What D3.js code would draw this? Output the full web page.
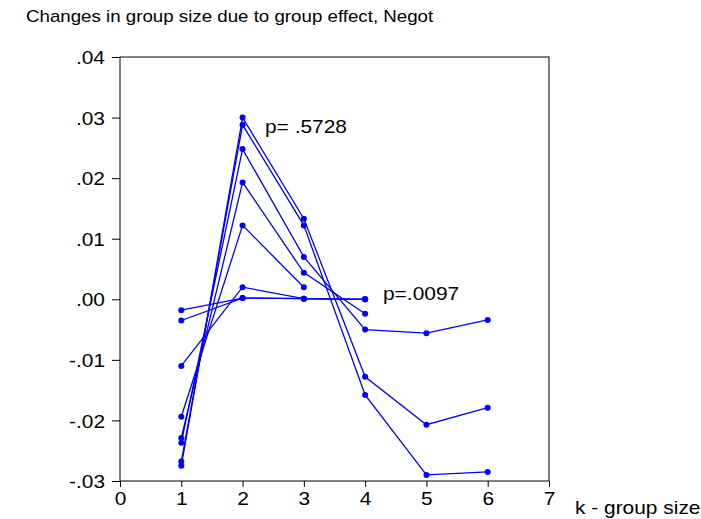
<!DOCTYPE html>
<html>
<head>
<meta charset="utf-8">
<script src="https://cdn.jsdelivr.net/npm/d3@7"></script>
<style>
  body { margin: 0; background: #fff; }
  text { font-family: "Liberation Sans", Arial, sans-serif; fill: #000; }
</style>
</head>
<body>
<svg id="chart"></svg>
<script>
// Data
const kValues = [1, 2, 3, 4, 5, 6];
const seriesA = [-0.0275, 0.0300, 0.0133, -0.0128, -0.0207, -0.0179];
const seriesB = [-0.0268, 0.0288, 0.0122, -0.0158, -0.0290, -0.0285];
const seriesC = [-0.0237, 0.0248, 0.0070, -0.0050, -0.0056, -0.0034];
const seriesD = [-0.0229, 0.0193, 0.0044, -0.0024];
const seriesE = [-0.0194, 0.0122, 0.0020];
const seriesF = [-0.0110, 0.0020, 0.0001, 0.0000];
const seriesG = [-0.0018, 0.0002, 0.0001, 0.0000];
const seriesH = [-0.0035, 0.0002, 0.0001, 0.0000];
const allSeries = [seriesA, seriesB, seriesC, seriesD, seriesE, seriesF, seriesG, seriesH];

const xTicks = [0, 1, 2, 3, 4, 5, 6, 7];
const yTicks = [-0.03, -0.02, -0.01, 0, 0.01, 0.02, 0.03, 0.04];
const yTickLabels = ["-.03", "-.02", "-.01", ".00", ".01", ".02", ".03", ".04"];

const width = 701, height = 519;
const margin = { top: 57, right: 152, bottom: 38, left: 120 };
const plotW = width - margin.left - margin.right;
const plotH = height - margin.top - margin.bottom;

const svg = d3.select("#chart").attr("width", width).attr("height", height);

const x = d3.scaleLinear().domain([0, 7]).range([margin.left, margin.left + plotW]);
const y = d3.scaleLinear().domain([-0.03, 0.04]).range([margin.top + plotH, margin.top]);

// the source font is a bit wider than Arial, stretch text horizontally
function widen(sel, f) {
  sel.each(function () {
    const w = this.getComputedTextLength();
    d3.select(this).attr("textLength", w * f).attr("lengthAdjust", "spacingAndGlyphs");
  });
}

// Title
svg.append("text")
  .attr("x", 26)
  .attr("y", 22)
  .style("font-size", "17px")
  .text("Changes in group size due to group effect, Negot")
  .call(widen, 1.1);

// Frame
svg.append("rect")
  .attr("x", margin.left)
  .attr("y", margin.top)
  .attr("width", plotW)
  .attr("height", plotH)
  .attr("fill", "none")
  .attr("stroke", "#000")
  .attr("stroke-width", 1);

// Axes
const yAxis = svg.append("g")
  .attr("transform", `translate(${margin.left},0)`)
  .call(d3.axisLeft(y).tickValues(yTicks)
    .tickFormat((d, i) => yTickLabels[i]).tickSize(8).tickPadding(7).tickSizeOuter(0));

const xAxis = svg.append("g")
  .attr("transform", `translate(0,${margin.top + plotH})`)
  .call(d3.axisBottom(x).tickValues(xTicks).tickFormat(d3.format("d"))
    .tickSize(6).tickPadding(5).tickSizeOuter(0));

[yAxis, xAxis].forEach((g) => {
  g.select(".domain").remove();
  g.selectAll("line").attr("stroke", "#000");
  g.selectAll("text")
    .style("font-size", "19px")
    .style("font-family", "'Liberation Sans', Arial, sans-serif")
    .attr("fill", "#000");
});
yAxis.selectAll("text").attr("dy", "0.35em").call(widen, 1.1);
xAxis.selectAll("text").call(widen, 1.1);

// Lines and dots
const line = d3.line()
  .x((d, i) => x(kValues[i]))
  .y((d) => y(d));

const groups = svg.selectAll(".series")
  .data(allSeries)
  .enter()
  .append("g")
  .attr("class", "series");

groups.append("path")
  .attr("d", (d) => line(d))
  .attr("fill", "none")
  .attr("stroke", "#0000ff")
  .attr("stroke-width", 1.3);

groups.selectAll("circle")
  .data((d) => d.map((v, i) => ({ k: kValues[i], v })))
  .enter()
  .append("circle")
  .attr("cx", (d) => x(d.k))
  .attr("cy", (d) => y(d.v))
  .attr("r", 3)
  .attr("fill", "#0000ff");

// Annotations
svg.append("text")
  .attr("x", 265)
  .attr("y", 133)
  .style("font-size", "19px")
  .text("p= .5728")
  .call(widen, 1.1);

svg.append("text")
  .attr("x", 383)
  .attr("y", 300)
  .style("font-size", "19px")
  .text("p=.0097")
  .call(widen, 1.1);

svg.append("text")
  .attr("x", 575)
  .attr("y", 514)
  .style("font-size", "19px")
  .text("k - group size")
  .call(widen, 1.1);
</script>
</body>
</html>
